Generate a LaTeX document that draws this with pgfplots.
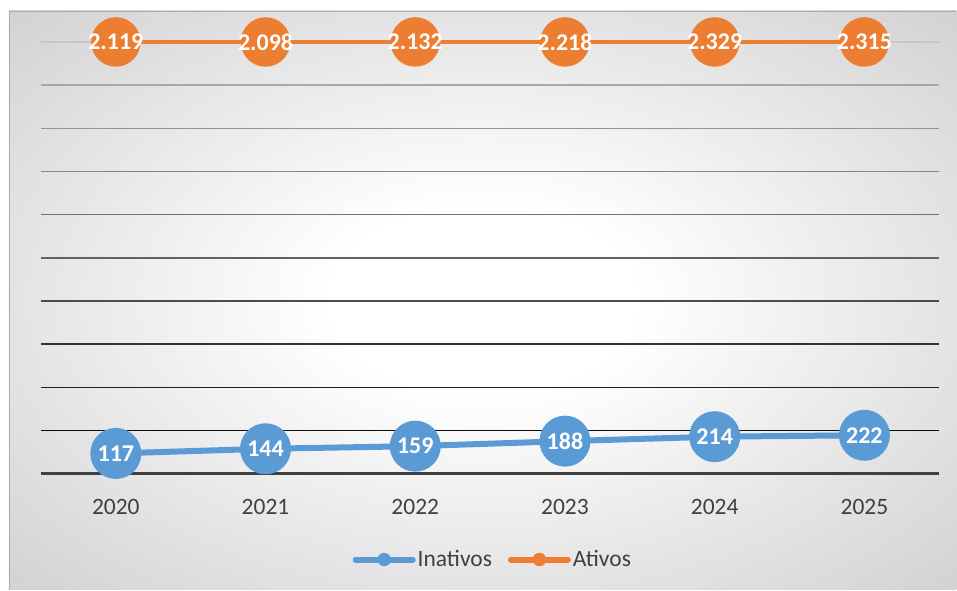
\documentclass[border=0pt]{standalone}
\usepackage{pgfplots}
\pgfplotsset{compat=1.18}
\usepackage{fontspec}
\setmainfont{Carlito}
\definecolor{cblue}{HTML}{5B9BD5}
\definecolor{corange}{HTML}{ED7D31}
\definecolor{ctext}{HTML}{404040}
\pgfdeclareradialshading{bgshade}{\pgfpoint{0bp}{0bp}}{color(0bp)=(white); color(8bp)=(white); color(50bp)=(black!27); color(72bp)=(black!40)}
\begin{document}
\begin{tikzpicture}[x=1pt,y=1pt]
\path[fill=white] (0,0) rectangle (957,590);
\shade[shading=bgshade] (9,0) rectangle (957,579);
\draw[black!32, line width=1.5pt] (9.75,0) -- (9.75,578.25) -- (957,578.25);
\pgfplotsset{
  common/.style={
    at={(41pt,116pt)}, anchor=south west,
    scale only axis, width=899pt, height=432pt,
    xmin=-0.5, xmax=5.5, ymin=0,
    axis lines=none, clip=false,
    xtick=\empty, ytick=\empty,
    nodes near coords={\pgfmathprintnumber[1000 sep={.}, assume math mode=true]{\pgfplotspointmeta}},
    every node near coord/.append style={anchor=center, text=white, font=\fontsize{24}{28}\selectfont\bfseries},
  }
}
\begin{axis}[common, ymax=2500,
  legend style={draw=none, fill=none, at={(0.503,-0.199)}, anchor=center,
    font=\fontsize{23.5}{27}\selectfont, text=ctext,
    /tikz/every even column/.append style={column sep=14pt},
    nodes={inner sep=2pt}},
  legend columns=2,
]
% gridlines
\draw[line width=1.5pt, color=black!22] (axis cs:-0.5,2500) -- (axis cs:5.5,2500);
\draw[line width=1.5pt, color=black!34] (axis cs:-0.5,2250) -- (axis cs:5.5,2250);
\draw[line width=1.5pt, color=black!42] (axis cs:-0.5,2000) -- (axis cs:5.5,2000);
\draw[line width=1.5pt, color=black!48] (axis cs:-0.5,1750) -- (axis cs:5.5,1750);
\draw[line width=1.5pt, color=black!55] (axis cs:-0.5,1500) -- (axis cs:5.5,1500);
\draw[line width=1.5pt, color=black!62] (axis cs:-0.5,1250) -- (axis cs:5.5,1250);
\draw[line width=1.5pt, color=black!70] (axis cs:-0.5,1000) -- (axis cs:5.5,1000);
\draw[line width=1.5pt, color=black!80] (axis cs:-0.5,750) -- (axis cs:5.5,750);
\draw[line width=1.5pt, color=black!88] (axis cs:-0.5,500) -- (axis cs:5.5,500);
\draw[line width=1.5pt, color=black!95] (axis cs:-0.5,250) -- (axis cs:5.5,250);
\draw[line width=3pt, color=ctext] (axis cs:-0.5,0) -- (axis cs:5.5,0);
% x labels
\node[text=ctext, font=\fontsize{23.5}{27}\selectfont] at (axis cs:0,0) [yshift=-33pt] {2020};
\node[text=ctext, font=\fontsize{23.5}{27}\selectfont] at (axis cs:1,0) [yshift=-33pt] {2021};
\node[text=ctext, font=\fontsize{23.5}{27}\selectfont] at (axis cs:2,0) [yshift=-33pt] {2022};
\node[text=ctext, font=\fontsize{23.5}{27}\selectfont] at (axis cs:3,0) [yshift=-33pt] {2023};
\node[text=ctext, font=\fontsize{23.5}{27}\selectfont] at (axis cs:4,0) [yshift=-33pt] {2024};
\node[text=ctext, font=\fontsize{23.5}{27}\selectfont] at (axis cs:5,0) [yshift=-33pt] {2025};
% Inativos
\addplot[forget plot, draw=cblue, line width=6pt, mark=*, mark size=22.5pt, mark options={fill=cblue, draw=none}, point meta=y]
  coordinates {(0,117) (1,144) (2,159) (3,188) (4,214) (5,222)};
\addlegendimage{legend image code/.code={\draw[draw=cblue, line width=6pt, line cap=round] (0pt,0pt) -- (57pt,0pt); \fill[cblue] (28.5pt,0pt) circle (6.5pt);}}
\addlegendentry{Inativos}
\addlegendimage{legend image code/.code={\draw[draw=corange, line width=6pt, line cap=round] (0pt,0pt) -- (57pt,0pt); \fill[corange] (28.5pt,0pt) circle (6.5pt);}}
\addlegendentry{Ativos}
\end{axis}
% Ativos: secondary (hidden) axis whose maximum is 2000; values above it sit on the top edge, as in the original
\begin{axis}[common, ymax=2000]
\addplot[draw=corange, line width=4.5pt, mark=*, mark size=22.5pt, mark options={fill=corange, draw=none},
  point meta=rawy, y filter/.expression={min(y,2000)}]
  coordinates {(0,2119) (1,2098) (2,2132) (3,2218) (4,2329) (5,2315)};
\end{axis}
\end{tikzpicture}
\end{document}
